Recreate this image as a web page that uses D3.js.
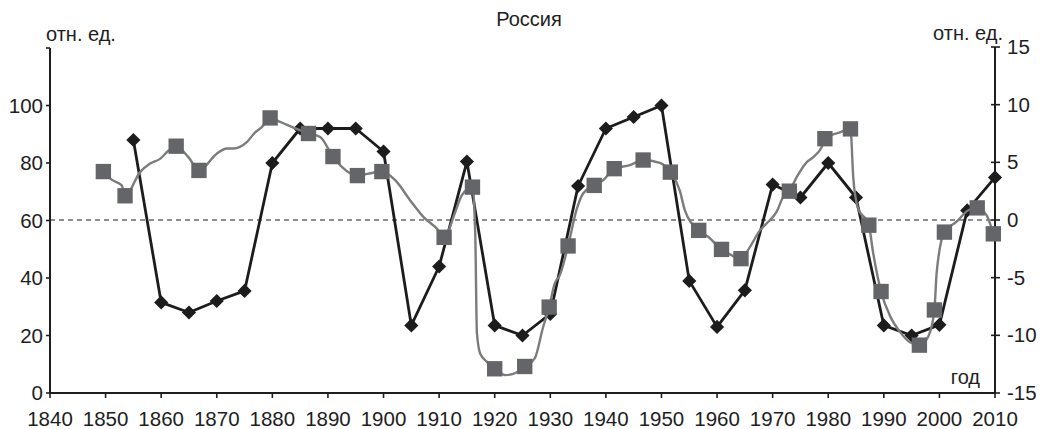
<!DOCTYPE html>
<html>
<head>
<meta charset="utf-8">
<script src="https://cdn.jsdelivr.net/npm/d3@7"></script>
<style>
  html, body { margin: 0; padding: 0; background: #fff; }
  svg { display: block; font-family: Arial, "Liberation Sans", sans-serif; }
</style>
</head>
<body>
<svg id="chart" width="1041" height="429"></svg>
<script>
// Black series (left axis, relative units), every 5 years
const blackYears = [1855, 1860, 1865, 1870, 1875, 1880, 1885, 1890, 1895, 1900,
  1905, 1910, 1915, 1920, 1925, 1930, 1935, 1940, 1945, 1950,
  1955, 1960, 1965, 1970, 1975, 1980, 1985, 1990, 1995, 2000, 2005, 2010];
const blackValues = [88, 31.5, 28, 32, 35.5, 80, 92, 92, 92, 84,
  23.5, 44, 80.5, 23.5, 20, 27.5, 72, 92, 96, 100,
  39, 23, 35.7, 72.5, 68, 80, 68, 23.5, 20, 23.7, 63.5, 75];

// Grey series (right axis): the traced line
const greyYears = [1849.6, 1851.1, 1852.9, 1853.5, 1856.2, 1858, 1859.8, 1861.3, 1862.7, 1864.9,
  1866.8, 1870, 1871.8, 1873, 1875.4, 1876.9, 1878.1, 1879.6, 1881.4, 1883.8,
  1886.5, 1888.6, 1890.9, 1892.5, 1895.3, 1897.1, 1899.7, 1902.1, 1904.8, 1907.2,
  1909.6, 1910.9, 1912.9, 1914.1, 1916, 1916.5, 1916.8, 1917.4, 1918.6, 1920,
  1921.9, 1924, 1925.4, 1927.2, 1928.7, 1929.8, 1930.8, 1931.7, 1933.2, 1934.7,
  1935.9, 1937.9, 1939.5, 1941.5, 1944.3, 1946.7, 1949.7, 1951.6, 1953.3, 1954.2,
  1956.7, 1958.4, 1960.8, 1962.6, 1964.3, 1965.9, 1967.7, 1968.9, 1970.7, 1971.9,
  1973, 1974.3, 1976.1, 1977.3, 1978.8, 1979.4, 1982.1, 1984, 1984.5, 1985.3,
  1987.3, 1988.1, 1989.5, 1991.2, 1992.9, 1994.7, 1996.4, 1998, 1999.1, 1999.5,
  2000.9, 2003.1, 2005.2, 2006.8, 2008.5, 2009.7];
const greyValues = [4.2, 3.5, 3.0, 2.1, 4.15, 4.9, 5.3, 6.0, 6.4, 5.45,
  4.3, 5.75, 6.2, 6.2, 6.75, 7.6, 8.05, 8.85, 8.5, 8.0,
  7.5, 7.2, 5.5, 4.6, 3.85, 4.0, 4.2, 3.45, 1.7, 0.25,
  -0.75, -1.5, 0.7, 2.15, 2.85, -1.2, -9.8, -11.6, -12.3, -12.9,
  -13.45, -13.2, -12.7, -12, -9.3, -7.55, -5.5, -4.8, -2.25, 0.85,
  2.3, 3.0, 3.45, 4.45, 4.75, 5.2, 4.95, 4.15, 2.55, 0.85,
  -0.9, -1.45, -2.55, -3.05, -3.35, -2.35, -0.9, -0.3, 0.7, 2.0,
  2.5, 3.7, 5.0, 5.45, 6.3, 7.05, 7.6, 7.9, 3.7, 1.1,
  -0.45, -2.9, -6.2, -8.4, -9.7, -10.6, -10.85, -10.1, -7.8, -4.6,
  -1.05, -0.15, 0.85, 1.05, 0.4, -1.2];

// Grey series: marked points
const greyMarkYears = [1849.6, 1853.5, 1862.7, 1866.8, 1879.6, 1886.5, 1890.9, 1895.3, 1899.7, 1910.9,
  1916, 1920, 1925.4, 1929.8, 1933.2, 1937.9, 1941.5, 1946.7, 1951.6, 1956.7,
  1960.8, 1964.3, 1973, 1979.4, 1984, 1987.3, 1989.5, 1996.4, 1999.1, 2000.9,
  2006.8, 2009.7];
const greyMarkValues = [4.2, 2.1, 6.4, 4.3, 8.85, 7.5, 5.5, 3.85, 4.2, -1.5,
  2.85, -12.9, -12.7, -7.55, -2.25, 3.0, 4.45, 5.2, 4.15, -0.9,
  -2.55, -3.35, 2.5, 7.05, 7.9, -0.45, -6.2, -10.85, -7.8, -1.05,
  1.05, -1.2];

// Axis ticks and labels
const xTicks = d3.range(1840, 2011, 10);
const leftTicks = [0, 20, 40, 60, 80, 100, 120];
const leftTickLabels = [0, 20, 40, 60, 80, 100];
const rightTicks = [-15, -10, -5, 0, 5, 10, 15];
const titleText = "Россия";
const unitText = "отн. ед.";
const xAxisText = "год";

const svg = d3.select("#chart");
const ink = "#1e1e1e";

const x = d3.scaleLinear().domain([1840, 2010]).range([50, 995]);
const yL = d3.scaleLinear().domain([0, 120]).range([393, 48]);
const yR = d3.scaleLinear().domain([-15, 15]).range([393, 47]);

// zero reference line of the right axis
svg.append("line")
  .attr("x1", x(1840)).attr("x2", x(2010))
  .attr("y1", yR(0)).attr("y2", yR(0))
  .attr("stroke", ink).attr("stroke-width", 1.1)
  .attr("stroke-dasharray", "5,4");

// bottom axis
const gx = svg.append("g");
gx.append("line").attr("x1", x(1840)).attr("x2", x(2010))
  .attr("y1", yL(0)).attr("y2", yL(0))
  .attr("stroke", ink).attr("stroke-width", 2);
gx.selectAll("line.t").data(xTicks).join("line").attr("class", "t")
  .attr("x1", d => x(d)).attr("x2", d => x(d))
  .attr("y1", yL(0)).attr("y2", yL(0) + 5)
  .attr("stroke", ink).attr("stroke-width", 1.6);
gx.selectAll("text").data(xTicks).join("text")
  .attr("x", d => x(d)).attr("y", 426)
  .attr("text-anchor", "middle").attr("font-size", 20.5).attr("fill", ink)
  .text(d => d);

// left axis
const gl = svg.append("g");
gl.append("line").attr("x1", x(1840)).attr("x2", x(1840))
  .attr("y1", yL(120)).attr("y2", yL(0))
  .attr("stroke", ink).attr("stroke-width", 2);
gl.selectAll("line.t").data(leftTicks).join("line").attr("class", "t")
  .attr("x1", x(1840) - 4).attr("x2", x(1840))
  .attr("y1", d => yL(d)).attr("y2", d => yL(d))
  .attr("stroke", ink).attr("stroke-width", 1.6);
gl.selectAll("text").data(leftTickLabels).join("text")
  .attr("x", 43).attr("y", d => yL(d) + 7)
  .attr("text-anchor", "end").attr("font-size", 20.5).attr("fill", ink)
  .text(d => d);

// right axis
const gr = svg.append("g");
gr.append("line").attr("x1", x(2010)).attr("x2", x(2010))
  .attr("y1", yR(15)).attr("y2", yR(-15))
  .attr("stroke", ink).attr("stroke-width", 2);
gr.selectAll("line.t").data(rightTicks).join("line").attr("class", "t")
  .attr("x1", x(2010) - 4).attr("x2", x(2010) + 5)
  .attr("y1", d => yR(d)).attr("y2", d => yR(d))
  .attr("stroke", ink).attr("stroke-width", 1.6);
gr.selectAll("text").data(rightTicks).join("text")
  .attr("x", 1007).attr("y", d => yR(d) + 7)
  .attr("text-anchor", "start").attr("font-size", 20.5).attr("fill", ink)
  .text(d => d);

// titles
svg.append("text").attr("x", 529).attr("y", 26)
  .attr("text-anchor", "middle").attr("font-size", 20).attr("fill", ink).text(titleText);
svg.append("text").attr("x", 46).attr("y", 41)
  .attr("text-anchor", "start").attr("font-size", 20).attr("fill", ink).text(unitText);
svg.append("text").attr("x", 1003).attr("y", 40)
  .attr("text-anchor", "end").attr("font-size", 20).attr("fill", ink).text(unitText);
svg.append("text").attr("x", 980).attr("y", 384)
  .attr("text-anchor", "end").attr("font-size", 20).attr("fill", ink).text(xAxisText);

// black series
const blackData = blackYears.map((d, i) => [d, blackValues[i]]);
svg.append("path").datum(blackData)
  .attr("fill", "none").attr("stroke", "#1c1c1c").attr("stroke-width", 2.8)
  .attr("stroke-linejoin", "round")
  .attr("d", d3.line().x(d => x(d[0])).y(d => yL(d[1])).curve(d3.curveLinear));
svg.selectAll("path.dia").data(blackData).join("path").attr("class", "dia")
  .attr("d", d3.symbol().type(d3.symbolSquare).size(100))
  .attr("transform", d => `translate(${x(d[0])},${yL(d[1])}) rotate(45)`)
  .attr("fill", "#1c1c1c");

// grey series
const greyData = greyYears.map((d, i) => [d, greyValues[i]]);
svg.append("path").datum(greyData)
  .attr("fill", "none").attr("stroke", "#7c7c7c").attr("stroke-width", 2.4)
  .attr("stroke-linejoin", "round")
  .attr("d", d3.line().x(d => x(d[0])).y(d => yR(d[1])).curve(d3.curveMonotoneX));
const greyMarks = greyMarkYears.map((d, i) => [d, greyMarkValues[i]]);
svg.selectAll("path.sq").data(greyMarks).join("path").attr("class", "sq")
  .attr("d", d3.symbol().type(d3.symbolSquare).size(236))
  .attr("transform", d => `translate(${x(d[0])},${yR(d[1])})`)
  .attr("fill", "#646568");
</script>
</body>
</html>
